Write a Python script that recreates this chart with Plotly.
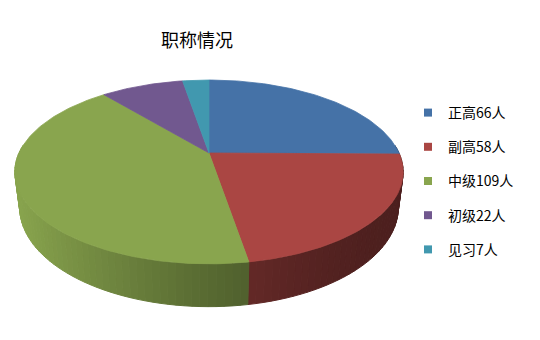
import numpy as np
import plotly.graph_objects as go

# ---- data ----
labels = ["正高", "副高", "中级", "初级", "见习"]
values = [66, 58, 109, 22, 7]
unit = "人"
colors = ["#4572A7", "#AA4643", "#89A54E", "#71588F", "#4198AF"]
title_text = "职称情况"

# ---- 3D pie geometry (screen pixel space) ----
CX, CY = 209.0, 153.0      # apex of pie on screen
A, B = 190.0, 88.0         # horizontal / vertical radii
K = 0.206                  # perspective factor
D = 34.0                   # thickness
SHRINK = 0.975             # bottom face slightly narrower (perspective)


def proj(theta_deg, down=False):
    t = np.radians(theta_deg)
    w = 1 + K * np.cos(t)
    x = CX + A * np.sin(t) / w
    y = CY - B * np.cos(t) / w
    if down:
        x = CX + (x - CX) * SHRINK
        y = y + D / w
    return x, y


def hex2rgb(h):
    h = h.lstrip("#")
    return [int(h[i:i + 2], 16) for i in (0, 2, 4)]


def shade(h, f):
    r, g, b = hex2rgb(h)
    return "rgb(%d,%d,%d)" % (int(r * f), int(g * f), int(b * f))


total = float(sum(values))
bounds = np.concatenate([[0.0], np.cumsum(values)]) / total * 360.0

fig = go.Figure()

# ---- side walls (front half), drawn as shaded strips ----
SIDE_LO, SIDE_HI = 85.0, 275.0
STEP = 2.0
for i, c in enumerate(colors):
    a0, a1 = max(bounds[i], SIDE_LO), min(bounds[i + 1], SIDE_HI)
    if a1 <= a0:
        continue
    n = max(1, int(np.ceil((a1 - a0) / STEP)))
    edges = np.linspace(a0, a1, n + 1)
    for j in range(n):
        th = np.linspace(edges[j], edges[j + 1], 3)
        xt, yt = proj(th)
        xb, yb = proj(th[::-1], down=True)
        xm = float(np.mean(xt))
        t = min(max((xm - 14.0) / 389.0, 0.0), 1.0)
        f = 0.45 + 0.55 * (1 - t) ** 1.5
        col = shade(c, f)
        fig.add_trace(go.Scatter(
            x=np.concatenate([xt, xb, xt[:1]]),
            y=np.concatenate([yt, yb, yt[:1]]),
            mode="lines", fill="toself", fillcolor=col,
            line=dict(color=col, width=1),
            hoverinfo="skip", showlegend=False))

# ---- top faces ----
for i, c in enumerate(colors):
    th = np.linspace(bounds[i], bounds[i + 1], max(3, int((bounds[i + 1] - bounds[i]) / 1.0) + 2))
    xs, ys = proj(th)
    fig.add_trace(go.Scatter(
        x=np.concatenate([[CX], xs, [CX]]),
        y=np.concatenate([[CY], ys, [CY]]),
        mode="lines", fill="toself", fillcolor=c,
        line=dict(color=c, width=0.8),
        name=labels[i], hoverinfo="skip", showlegend=False))

# ---- legend entries ----
for i, c in enumerate(colors):
    fig.add_trace(go.Scatter(
        x=[None], y=[None], mode="markers",
        marker=dict(symbol="square", size=8, color=c),
        name="%s%d%s" % (labels[i], values[i], unit),
        legendgroup="g%d" % i, showlegend=True))

fig.update_layout(
    width=540, height=340,
    margin=dict(l=0, r=0, t=0, b=0),
    paper_bgcolor="white", plot_bgcolor="white",
    xaxis=dict(range=[0, 540], visible=False, fixedrange=True),
    yaxis=dict(range=[340, 0], visible=False, fixedrange=True),
    title=dict(text=title_text, x=197 / 540, xanchor="center",
               y=1 - 41 / 340, yanchor="middle",
               font=dict(family="Noto Sans CJK SC", size=18, color="black")),
    legend=dict(x=408 / 540, xanchor="left", y=1 - 97 / 340, yanchor="top",
                font=dict(family="Noto Sans CJK SC", size=14, color="black"),
                tracegroupgap=13, bgcolor="rgba(0,0,0,0)", traceorder="grouped"),
    font=dict(family="Noto Sans CJK SC"),
)

fig.write_html("out.html")
